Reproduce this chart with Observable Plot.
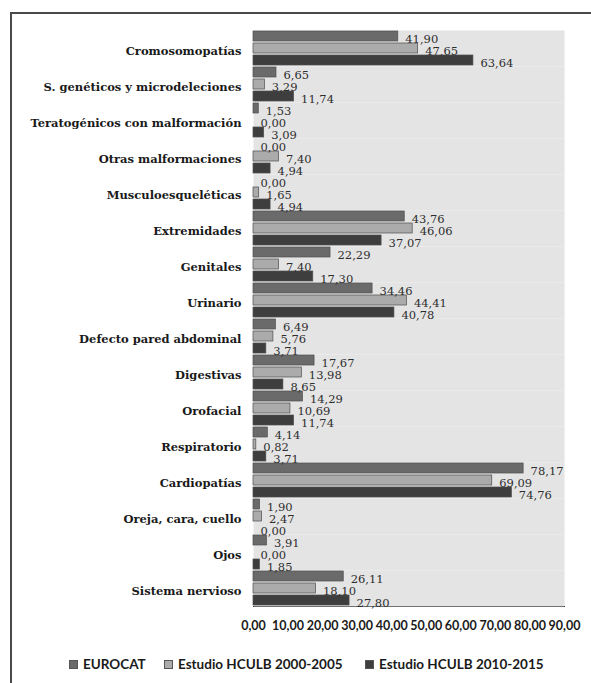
<!DOCTYPE html>
<html>
<head>
<meta charset="utf-8">
<script src="https://cdn.jsdelivr.net/npm/d3@7"></script>
<script src="https://cdn.jsdelivr.net/npm/@observablehq/plot@0.6"></script>
<style>
  html, body { margin: 0; padding: 0; background: #fff; overflow: hidden; }
  #wrap { position: relative; width: 591px; height: 683px; }
  #border { position: absolute; left: 10px; top: 12px; width: 700px; height: 800px;
            border-left: 2px solid #4a4a4a; border-top: 2px solid #4a4a4a; }
  #chart { position: absolute; left: 0; top: 0; }
  #chart svg [aria-label^="x-axis"] text, #chart svg [aria-label^="x-axis"] { font-family: Lato, sans-serif; font-weight: bold; font-size: 12.5px; fill: #1a1a1a; }
  #chart svg [aria-label^="fy-axis"] text, #chart svg [aria-label^="fy-axis"] { font-family: "DejaVu Serif", serif; font-weight: bold; font-size: 11.5px; fill: #1a1a1a; }
  #chart svg [aria-label^="fy-axis"] { translate: 0 3px; }
  .leg { position: absolute; top: 656px; font: bold 13.5px Lato, sans-serif; color: #1a1a1a;
         white-space: nowrap; display: flex; align-items: center; }
  .sw { display: inline-block; width: 7px; height: 7px; margin-right: 5px; border: 0.8px solid #555; }
</style>
</head>
<body>
<div id="wrap">
  <div id="border"></div>
  <div id="chart"></div>
  <div id="legend"></div>
</div>
<script>
const categories = [
  "Cromosomopatías",
  "S. genéticos y microdeleciones",
  "Teratogénicos con malformación",
  "Otras malformaciones",
  "Musculoesqueléticas",
  "Extremidades",
  "Genitales",
  "Urinario",
  "Defecto pared abdominal",
  "Digestivas",
  "Orofacial",
  "Respiratorio",
  "Cardiopatías",
  "Oreja, cara, cuello",
  "Ojos",
  "Sistema nervioso"
];
const seriesNames = ["EUROCAT", "Estudio HCULB 2000-2005", "Estudio HCULB 2010-2015"];
const eurocat   = [41.90, 6.65, 1.53, 0.00, 0.00, 43.76, 22.29, 34.46, 6.49, 17.67, 14.29, 4.14, 78.17, 1.90, 3.91, 26.11];
const hculb2000 = [47.65, 3.29, 0.00, 7.40, 1.65, 46.06, 7.40, 44.41, 5.76, 13.98, 10.69, 0.82, 69.09, 2.47, 0.00, 18.10];
const hculb2010 = [63.64, 11.74, 3.09, 4.94, 4.94, 37.07, 17.30, 40.78, 3.71, 8.65, 11.74, 3.71, 74.76, 0.00, 1.85, 27.80];
const xTicks = [0, 10, 20, 30, 40, 50, 60, 70, 80, 90];
const seriesColors = ["#6a6a6a", "#ababab", "#3e3e3e"];

const seriesValues = [eurocat, hculb2000, hculb2010];
const rows = [];
categories.forEach((c, i) => {
  seriesNames.forEach((s, j) => rows.push({category: c, series: s, value: seriesValues[j][i]}));
});
const fmt = v => d3.format(".2f")(v).replace(".", ",");

const chart = Plot.plot({
  width: 591,
  height: 645,
  marginLeft: 253,
  marginRight: 27,
  marginTop: 24,
  marginBottom: 33,
  style: {background: "transparent", fontFamily: "DejaVu Serif"},
  facet: {data: rows, y: "category"},
  fy: {domain: categories, padding: 0, axis: "left", label: null, tickSize: 0, tickPadding: 12},
  y: {domain: seriesNames, axis: null, paddingInner: 0.15, paddingOuter: 0.05},
  x: {domain: [0, 90], ticks: xTicks, tickFormat: fmt, tickSize: 0, tickPadding: 15, line: true, label: null, axis: "bottom"},
  color: {domain: seriesNames, range: seriesColors},
  marks: [
    Plot.frame({fill: "#e4e4e4", stroke: "none"}),
    Plot.barX(rows, {x: "value", y: "series", fill: "series", stroke: "#4d4d4d", strokeWidth: 0.7}),
    Plot.text(rows, {x: "value", y: "series", text: d => fmt(d.value), textAnchor: "start", dx: 7, dy: 3,
      fontFamily: "DejaVu Serif", fontSize: 11.5, fill: "#2e2e2e"})
  ]
});
document.getElementById("chart").appendChild(chart);

const legendLeft = [69, 164, 365];
const legend = document.getElementById("legend");
seriesNames.forEach((s, i) => {
  const item = document.createElement("div");
  item.className = "leg";
  item.style.left = legendLeft[i] + "px";
  const sw = document.createElement("span");
  sw.className = "sw";
  sw.style.background = seriesColors[i];
  item.appendChild(sw);
  item.appendChild(document.createTextNode(s));
  legend.appendChild(item);
});
</script>
</body>
</html>
